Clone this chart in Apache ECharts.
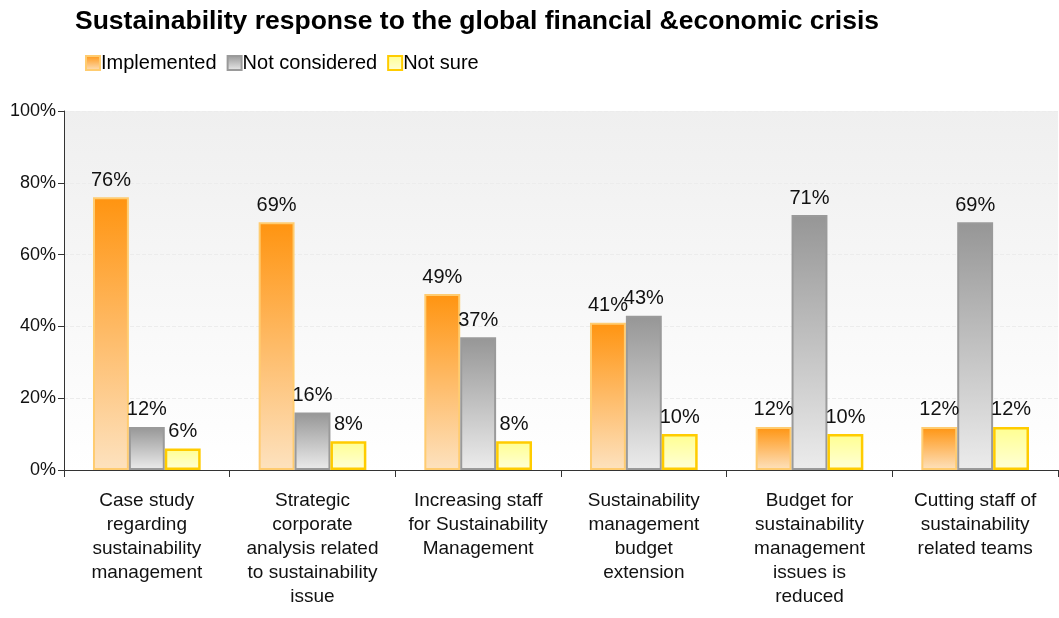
<!DOCTYPE html>
<html>
<head>
<meta charset="utf-8">
<script src="https://cdn.jsdelivr.net/npm/echarts@6/dist/echarts.min.js"></script>
<style>
  html, body { margin: 0; padding: 0; background: #ffffff; }
  #chart { width: 1059px; height: 618px; }
</style>
</head>
<body>
<div id="chart"></div>
<script>
// Survey categories (x axis) and the share of answers per response type, in %
const categories = [
  'Case study\nregarding\nsustainability\nmanagement',
  'Strategic\ncorporate\nanalysis related\nto sustainability\nissue',
  'Increasing staff\nfor Sustainability\nManagement',
  'Sustainability\nmanagement\nbudget\nextension',
  'Budget for\nsustainability\nmanagement\nissues is\nreduced',
  'Cutting staff of\nsustainability\nrelated teams'
];
const implemented   = [76, 69, 49, 41, 12, 12];
const notConsidered = [12, 16, 37, 43, 71, 69];
const notSure       = [6, 8, 8, 10, 10, 12];
const seriesNames = ['Implemented', 'Not considered', 'Not sure'];
const yTicks = [0, 20, 40, 60, 80, 100];

const FONT = '"Liberation Sans", Arial, sans-serif';

function vGrad(top, bottom) {
  return new echarts.graphic.LinearGradient(0, 0, 0, 1, [
    { offset: 0, color: top },
    { offset: 1, color: bottom }
  ]);
}

const labelStyle = {
  show: true,
  position: 'top',
  distance: 7,
  formatter: p => p.value + '%',
  fontFamily: FONT,
  fontSize: 20,
  color: '#111'
};

const chart = echarts.init(document.getElementById('chart'), null, { renderer: 'canvas' });
chart.setOption({
  backgroundColor: '#ffffff',
  animation: false,
  title: {
    text: 'Sustainability response to the global financial &economic crisis',
    left: 70,
    top: 3,
    textStyle: { fontFamily: FONT, fontSize: 26.5, fontWeight: 'bold', color: '#000' }
  },
  legend: {
    data: seriesNames,
    left: 80,
    top: 48,
    itemWidth: 14,
    itemHeight: 14,
    itemGap: 10,
    icon: 'rect',
    textStyle: { fontFamily: FONT, fontSize: 20, color: '#000', padding: [0, 0, 0, -4] }
  },
  grid: {
    left: 64,
    right: 1,
    top: 111,
    bottom: 148,
    show: true,
    borderWidth: 0,
    backgroundColor: vGrad('#efefef', '#ffffff')
  },
  xAxis: {
    type: 'category',
    data: categories,
    axisLine: { show: true, lineStyle: { color: '#333', width: 1 } },
    axisTick: { show: true, length: 7, lineStyle: { color: '#333' } },
    axisLabel: {
      interval: 0,
      margin: 19,
      fontFamily: FONT,
      fontSize: 19,
      lineHeight: 24,
      color: '#111',
      align: 'center'
    }
  },
  yAxis: {
    type: 'value',
    min: 0,
    max: 100,
    interval: 20,
    axisLine: { show: true, lineStyle: { color: '#333', width: 1 } },
    axisTick: { show: true, inside: false, length: 6, lineStyle: { color: '#333' } },
    axisLabel: {
      formatter: v => yTicks.includes(v) ? v + '%' : '',
      fontFamily: FONT,
      fontSize: 18,
      color: '#111',
      margin: 8
    },
    splitLine: { show: true, lineStyle: { color: '#ececec', type: 'dashed' } }
  },
  series: [
    {
      name: seriesNames[0],
      type: 'bar',
      data: implemented,
      barGap: '0%',
      barCategoryGap: '35%',
      itemStyle: {
        color: vGrad('#ff9410', '#fde2bf'),
        borderColor: '#ffcc70',
        borderWidth: 2
      },
      label: labelStyle
    },
    {
      name: seriesNames[1],
      type: 'bar',
      data: notConsidered,
      barGap: '0%',
      barCategoryGap: '35%',
      itemStyle: {
        color: vGrad('#969696', '#ececec'),
        borderColor: '#9a9a9a',
        borderWidth: 2
      },
      label: labelStyle
    },
    {
      name: seriesNames[2],
      type: 'bar',
      data: notSure,
      barGap: '0%',
      barCategoryGap: '35%',
      itemStyle: {
        color: vGrad('#ffff90', '#ffffd8'),
        borderColor: '#ffcc00',
        borderWidth: 2.5
      },
      label: labelStyle
    }
  ]
});
</script>
</body>
</html>
